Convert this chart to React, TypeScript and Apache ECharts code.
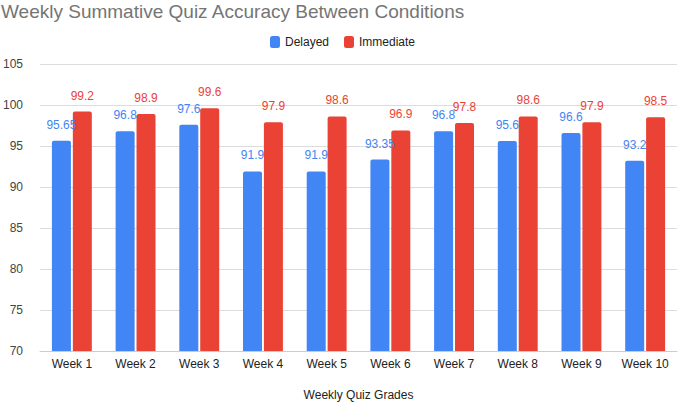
import React, { useEffect, useRef } from "react";
import * as echarts from "echarts";

const categories = ["Week 1", "Week 2", "Week 3", "Week 4", "Week 5", "Week 6", "Week 7", "Week 8", "Week 9", "Week 10"];
const delayed = [95.65, 96.8, 97.6, 91.9, 91.9, 93.35, 96.8, 95.6, 96.6, 93.2];
const immediate = [99.2, 98.9, 99.6, 97.9, 98.6, 96.9, 97.8, 98.6, 97.9, 98.5];

const BLUE = "#4285F4";
const RED = "#EA4335";
const FONT = "'Liberation Sans', Arial, Helvetica, sans-serif";

export default function App() {
  const ref = useRef<HTMLDivElement>(null);
  useEffect(() => {
    if (!ref.current) return;
    const chart = echarts.init(ref.current, undefined, { renderer: "svg" });
    const labelFor = (color: string) => ({
      show: true,
      position: "top" as const,
      distance: 10,
      color,
      fontSize: 12,
      fontFamily: FONT,
    });
    chart.setOption({
      animation: false,
      backgroundColor: "#ffffff",
      title: {
        text: "Weekly Summative Quiz Accuracy Between Conditions",
        left: -4,
        top: -3,
        textStyle: { color: "#757575", fontSize: 19, fontWeight: "normal", fontFamily: FONT },
      },
      legend: {
        top: 31,
        left: "center",
        itemWidth: 10,
        itemHeight: 12,
        itemGap: 15,
        icon: "roundRect",
        textStyle: { color: "#222", fontSize: 12, fontFamily: FONT },
        data: ["Delayed", "Immediate"],
      },
      grid: { left: 37, right: 8, top: 64, bottom: 47 },
      xAxis: {
        type: "category",
        data: categories,
        name: "Weekly Quiz Grades",
        nameLocation: "middle",
        nameGap: 38,
        nameTextStyle: { color: "#222", fontSize: 12, fontFamily: FONT },
        axisLine: { lineStyle: { color: "#cccccc" } },
        axisTick: { show: false },
        axisLabel: { color: "#222", fontSize: 12, fontFamily: FONT, margin: 7, interval: 0 },
      },
      yAxis: {
        type: "value",
        min: 70,
        max: 105,
        interval: 5,
        axisLine: { show: false },
        axisTick: { show: false },
        axisLabel: { color: "#444", fontSize: 12, fontFamily: FONT, margin: 17 },
        splitLine: { lineStyle: { color: "#dcdcdc" } },
      },
      series: [
        {
          name: "Delayed",
          type: "bar",
          data: delayed,
          barWidth: 19,
          barGap: "10%",
          itemStyle: { color: BLUE, borderRadius: [2, 2, 0, 0] },
          label: labelFor(BLUE),
        },
        {
          name: "Immediate",
          type: "bar",
          data: immediate,
          barWidth: 19,
          itemStyle: { color: RED, borderRadius: [2, 2, 0, 0] },
          label: labelFor(RED),
        },
      ],
    });
    return () => chart.dispose();
  }, []);
  return (
    <div
      ref={ref}
      style={{ position: "fixed", left: 0, top: 0, width: 685, height: 406, background: "#fff" }}
    />
  );
}
